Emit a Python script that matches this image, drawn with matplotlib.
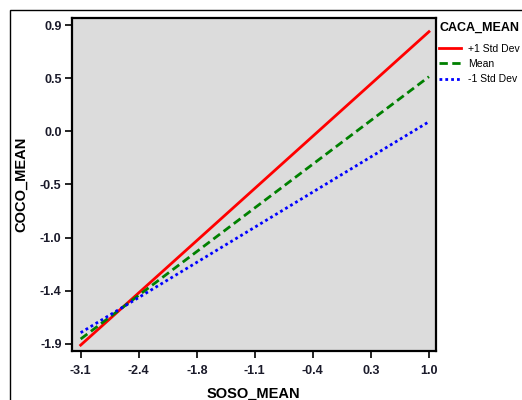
import matplotlib
matplotlib.use('Agg')
import matplotlib.pyplot as plt
from matplotlib.patches import Rectangle
import numpy as np

plt.rcParams['font.family'] = ['Liberation Sans', 'DejaVu Sans']

# predictor range (SOSO_MEAN) and predicted values at each end
x_ends = [-3.12, 0.98]
plus_sd = [-1.90, 0.871]
mean_line = [-1.846, 0.473]
minus_sd = [-1.79, 0.075]

series_labels = ['+1 Std Dev', 'Mean', '-1 Std Dev']
x_tick_labels = ['-3.1', '-2.4', '-1.8', '-1.1', '-0.4', '0.3', '1.0']
y_tick_labels = ['-1.9', '-1.4', '-1.0', '-0.5', '0.0', '0.5', '0.9']
y_tick_range = [-1.89, 0.93]

fig = plt.figure(figsize=(5.22, 4.0), dpi=100)
ax = fig.add_axes([72 / 522, 1 - 351 / 400, (435.5 - 72) / 522, (351 - 18) / 400])
ax.set_facecolor('#dcdcdc')

ax.plot(x_ends, plus_sd, color='#ff0000', lw=2.0, ls='-', label=series_labels[0])
ax.plot(x_ends, mean_line, color='#008000', lw=2.0, ls=(0, (3, 1.6)), label=series_labels[1])
ax.plot(x_ends, minus_sd, color='#0000ff', lw=2.0, ls=(0, (1, 1.1)), label=series_labels[2])

ax.set_xlim(-3.222, 1.057)
ax.set_ylim(-1.952, 0.992)

ax.set_xticks(np.linspace(x_ends[0], x_ends[1], len(x_tick_labels)))
ax.set_xticklabels(x_tick_labels)
ax.set_yticks(np.linspace(y_tick_range[0], y_tick_range[1], len(y_tick_labels)))
ax.set_yticklabels(y_tick_labels)

for lab in ax.get_xticklabels() + ax.get_yticklabels():
    lab.set_fontweight('bold')
    lab.set_fontsize(9)
    lab.set_color('#1a1a2a')
ax.tick_params(direction='out', length=5, width=1.2, pad=2.5)
ax.tick_params(axis='x', pad=5)

for s in ax.spines.values():
    s.set_linewidth(1.6)
    s.set_color('black')

ax.set_xlabel('SOSO_MEAN', fontsize=10.5, fontweight='bold', labelpad=7)
ax.set_ylabel('COCO_MEAN', fontsize=10.5, fontweight='bold', labelpad=8.5)

leg = ax.legend(loc='upper left', bbox_to_anchor=(437 / 522, 1 - 20 / 400),
                bbox_transform=fig.transFigure, frameon=False,
                fontsize=7.5, title='CACA_MEAN', alignment='left',
                handlelength=2.1, handletextpad=0.7, labelspacing=0.5,
                borderaxespad=0, borderpad=0.2)
leg.get_title().set_fontweight('bold')
leg.get_title().set_fontsize(9)
leg._legend_box.sep = 7

# outer chart frame
fig.patches.append(Rectangle((10 / 522, -0.1), 1.2, 1 - 10 / 400 + 0.1,
                             transform=fig.transFigure, fill=False,
                             edgecolor='black', lw=1.0))

fig.savefig('out.png', dpi=100)
